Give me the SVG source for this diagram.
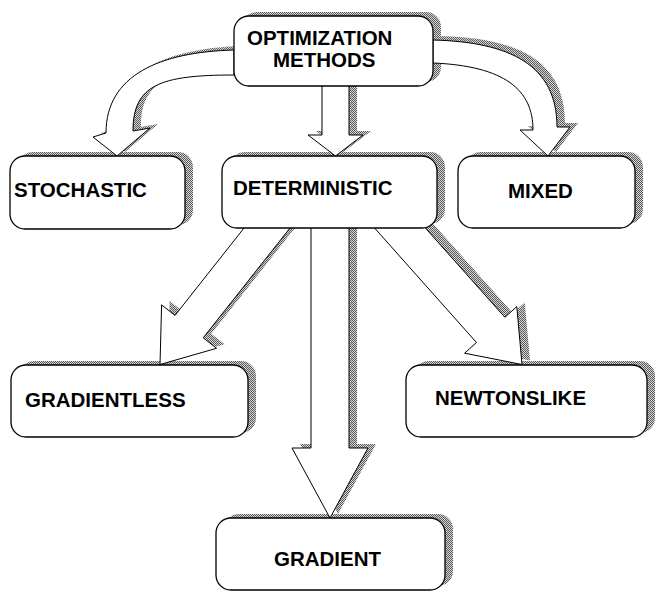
<svg xmlns="http://www.w3.org/2000/svg" width="655" height="591" viewBox="0 0 655 591">
<style>
.box{fill:#fff;stroke:#000;stroke-width:1.3}
.arr{fill:#fff;stroke:#000;stroke-width:1;stroke-linejoin:miter}
.sh{fill:url(#dots);stroke:none}
.lbl{font-family:"Liberation Sans",Arial,sans-serif;font-weight:bold;font-size:20.5px;fill:#000}
</style>
<defs>
<pattern id="dots" width="2" height="2" patternUnits="userSpaceOnUse">
<rect width="2" height="2" fill="#d6d6d6"/>
<rect width="1" height="1" fill="#5a5a5a"/>
<rect x="1" y="1" width="1" height="1" fill="#5a5a5a"/>
</pattern>
<rect id="bOpt" x="234" y="16" width="199" height="70" rx="15"/>
<rect id="bSto" x="10" y="156" width="175" height="73" rx="15"/>
<rect id="bDet" x="222" y="156" width="215" height="72" rx="15"/>
<rect id="bMix" x="458" y="156" width="177" height="72" rx="15"/>
<rect id="bGl" x="11" y="365" width="237" height="72" rx="15"/>
<rect id="bNew" x="406" y="365" width="241" height="72" rx="15"/>
<rect id="bGr" x="216" y="518" width="229" height="72" rx="15"/>
<path id="a1" d="M234,50 C160,52 106,75 106,133 L93,137 L117,156 L150,128 L133,131 C133,85 160,75 234,75 Z"/>
<path id="a2" d="M322,82 L322,135 L308,135 L335.5,156 L363,135 L349,135 L349,82 Z"/>
<path id="a3" d="M433,40 C510,42 557,65 557,127 L570,127 L548,156 L520,130 L533,130 C533,90 505,66 433,63 Z"/>
<path id="a4" d="M247.2,224 L175,315.4 L161.6,304.9 L160,364.5 L216.6,348.3 L203.2,337.8 L293.2,224 Z"/>
<path id="a5" d="M311,224 L311,448 L292,448 L330,518 L368,448 L349,448 L349,224 Z"/>
<path id="a6" d="M371,224 L476.5,342.5 L464.6,353.2 L522,364.5 L516.8,306.6 L504.9,317.3 L421.8,224 Z"/>
</defs>
<g id="shadows" transform="translate(8,-4)">
<use href="#bOpt" class="sh"/>
<use href="#bSto" class="sh"/>
<use href="#bDet" class="sh"/>
<use href="#bMix" class="sh"/>
<use href="#bGl" class="sh"/>
<use href="#bNew" class="sh"/>
<use href="#bGr" class="sh"/>
<use href="#a1" class="sh"/>
<use href="#a2" class="sh"/>
<use href="#a3" class="sh"/>
<use href="#a4" class="sh"/>
<use href="#a5" class="sh"/>
<use href="#a6" class="sh"/>
</g>
<g id="connectors">
<use href="#a1" class="arr"/>
<use href="#a2" class="arr"/>
<use href="#a3" class="arr"/>
<use href="#a4" class="arr"/>
<use href="#a5" class="arr"/>
<use href="#a6" class="arr"/>
</g>
<g id="node-optimization">
<use href="#bOpt" class="box"/>
<text class="lbl" x="247" y="45">OPTIMIZATION</text>
<text class="lbl" x="273" y="67">METHODS</text>
</g>
<g id="node-stochastic">
<use href="#bSto" class="box"/>
<text class="lbl" x="14" y="197">STOCHASTIC</text>
</g>
<g id="node-deterministic">
<use href="#bDet" class="box"/>
<text class="lbl" x="233" y="195">DETERMINISTIC</text>
</g>
<g id="node-mixed">
<use href="#bMix" class="box"/>
<text class="lbl" x="508" y="198">MIXED</text>
</g>
<g id="node-gradientless">
<use href="#bGl" class="box"/>
<text class="lbl" x="25" y="407">GRADIENTLESS</text>
</g>
<g id="node-newtonslike">
<use href="#bNew" class="box"/>
<text class="lbl" x="435" y="405">NEWTONSLIKE</text>
</g>
<g id="node-gradient">
<use href="#bGr" class="box"/>
<text class="lbl" x="274" y="566">GRADIENT</text>
</g>
</svg>
